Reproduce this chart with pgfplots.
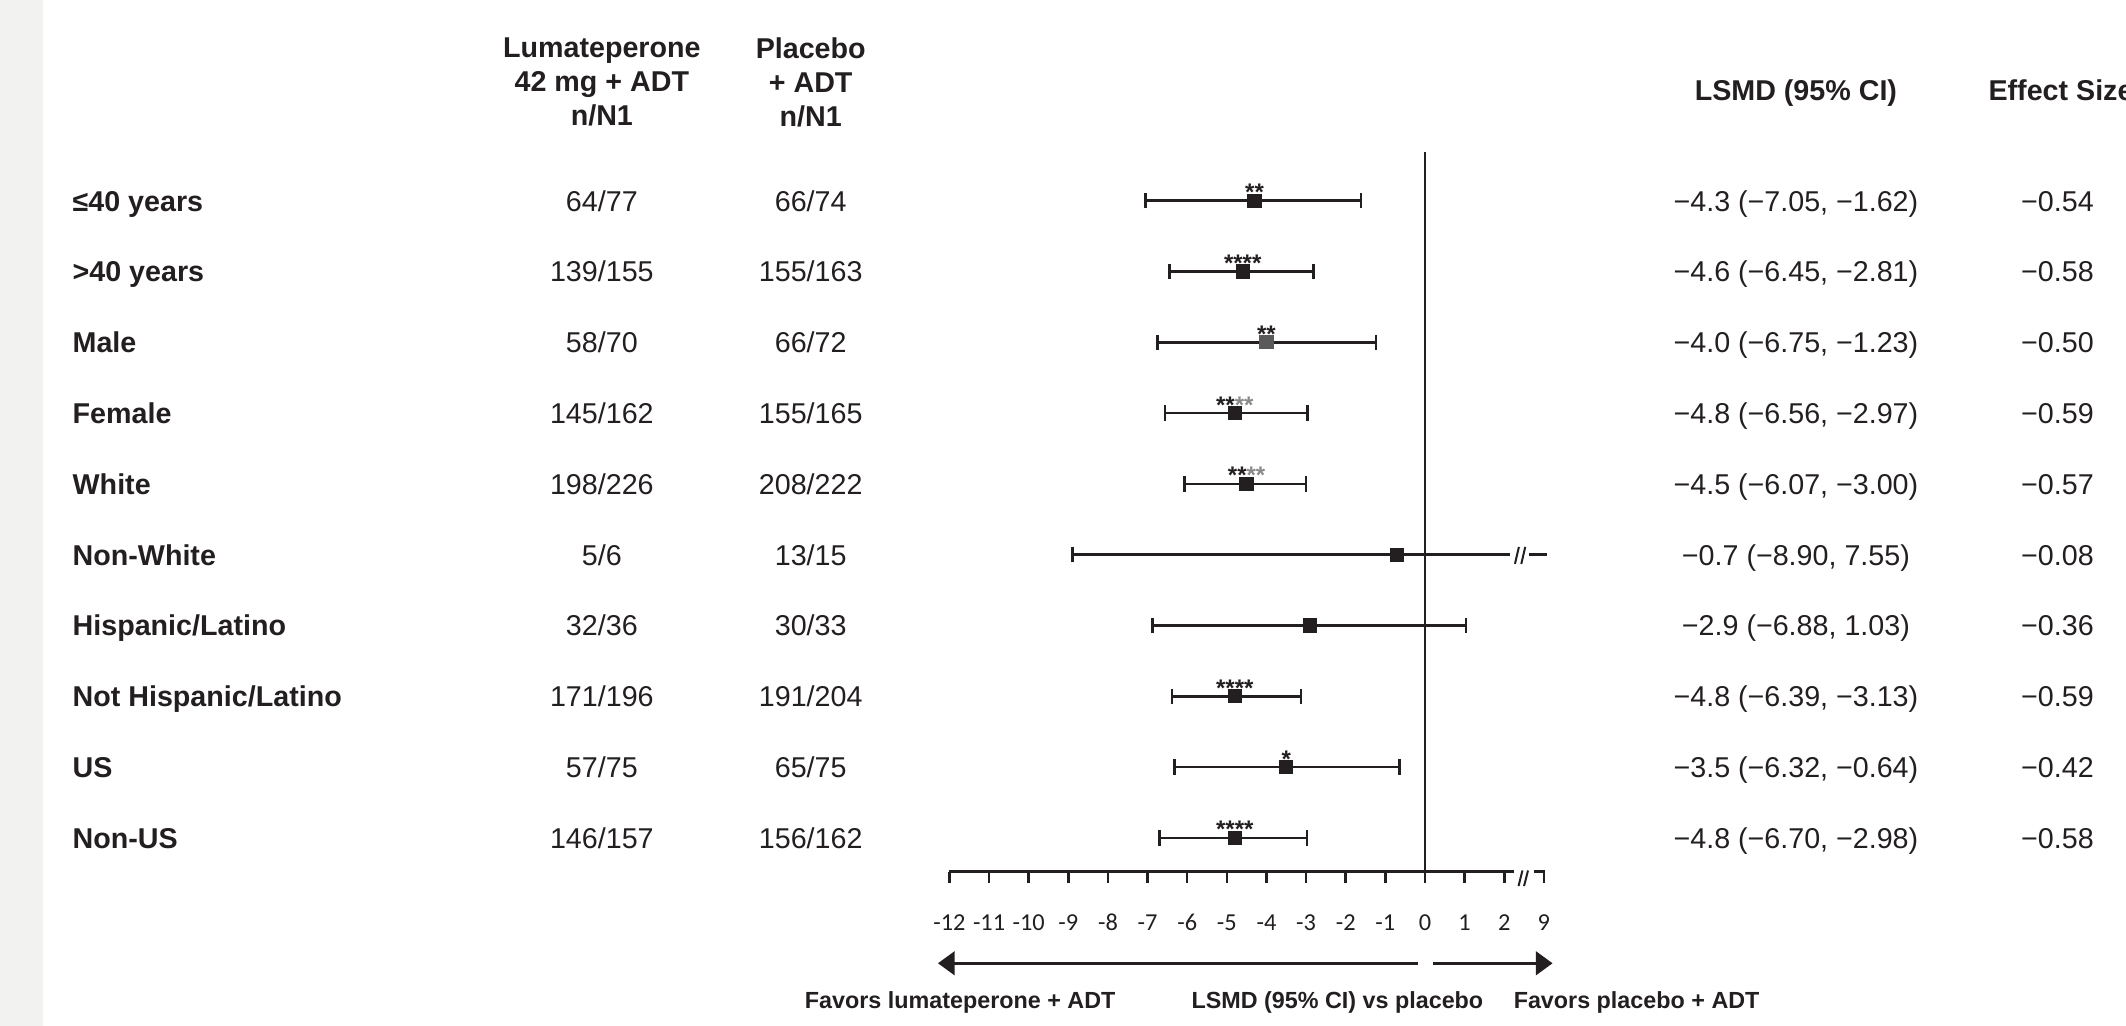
\documentclass[border=0pt]{standalone}
\usepackage{fontspec}
\setmainfont{Liberation Sans}
\newfontfamily\calfont{Carlito}
\usepackage{pgfplots}
\pgfplotsset{compat=1.18}
\usepackage{pgfplotstable}
\usetikzlibrary{arrows.meta}
\definecolor{ink}{HTML}{231F20}
\definecolor{strip}{HTML}{F2F2F0}
\definecolor{stargray}{HTML}{8A8A8A}
\definecolor{markgray}{HTML}{5A5A5A}

% forest rows (Non-White drawn separately because of the axis break)
\pgfplotstableread[col sep=comma]{
row,lsmd,lo,hi
1,-4.3,-7.05,-1.62
2,-4.6,-6.45,-2.81
3,-4.0,-6.75,-1.23
4,-4.8,-6.56,-2.97
5,-4.5,-6.07,-3.00
7,-2.9,-6.88,1.03
8,-4.8,-6.39,-3.13
9,-3.5,-6.32,-0.64
10,-4.8,-6.70,-2.98
}\forestdata

\newcommand\rowtxt[6]{%
  \node[lab] at (axis cs:-34.14,#1) {#2};
  \node[val] at (axis cs:-20.77,#1) {#3};
  \node[val] at (axis cs:-15.50,#1) {#4};
  \node[val] at (axis cs:9.36,#1) {#5};
  \node[val] at (axis cs:15.96,#1) {#6};
}

\begin{document}
\begin{tikzpicture}[
  lab/.style={anchor=base west, yshift=-3.1pt, inner sep=0pt, text=ink,
              font=\bfseries\fontsize{8.6}{10.2}\selectfont},
  val/.style={anchor=base, yshift=-3.1pt, inner sep=0pt, text=ink,
              font=\fontsize{8.6}{10.2}\selectfont},
  hdr/.style={anchor=center, inner sep=0pt, text=ink, align=center,
              font=\bfseries\fontsize{8.6}{10.2}\selectfont},
  stars/.style={anchor=base, inner sep=0pt, text=ink,
              font=\bfseries\fontsize{7.2}{8}\selectfont},
  tickl/.style={anchor=center, inner sep=0pt, text=ink,
              font=\calfont\fontsize{7.3}{8}\selectfont},
  foot/.style={anchor=base, yshift=-2.5pt, inner sep=0pt, text=ink,
              font=\bfseries\fontsize{7}{8}\selectfont},
]
\useasboundingbox (0,0) rectangle (637.8pt,307.8pt);
\clip (0,0) rectangle (637.8pt,307.8pt);
\begin{axis}[
  at={(0,0)}, anchor=south west,
  scale only axis, width=637.8pt, height=307.8pt,
  xmin=-35.957, xmax=17.689, ymin=-1.8347, ymax=12.657,
  y dir=reverse, hide axis, clip=false,
]
% left grey strip
\fill[strip] (axis cs:-36.5,-2.5) rectangle (axis cs:-34.87,13.5);

% zero reference line
\addplot[ink, line width=0.8pt] coordinates {(0,0.311) (0,10.477)};

% x axis with break
\addplot[ink, line width=0.75pt] coordinates {(-12,10.477) (2.24,10.477)};
\addplot[ink, line width=0.75pt] coordinates {(2.75,10.477) (3,10.477) (3,10.642)};
\pgfplotsinvokeforeach{-12,-11,...,2}{
  \draw[ink, line width=0.75pt] (axis cs:#1,10.477) -- (axis cs:#1,10.642);
  \node[tickl] at (axis cs:#1,11.198) {#1};
}
\node[tickl] at (axis cs:3,11.198) {9};
\draw[ink, line width=0.6pt] (axis cs:2.36,10.68) -- (axis cs:2.46,10.46);
\draw[ink, line width=0.6pt] (axis cs:2.50,10.68) -- (axis cs:2.60,10.46);

% Non-White line with break
\addplot[ink, line width=0.75pt] coordinates {(-0.7,6) (2.15,6)};
\addplot[ink, line width=0.75pt] coordinates {(2.62,6) (3.07,6)};
\draw[ink, line width=0.6pt] (axis cs:2.27,6.13) -- (axis cs:2.37,5.89);
\draw[ink, line width=0.6pt] (axis cs:2.43,6.13) -- (axis cs:2.53,5.89);

% estimates with 95% CI
\addplot[only marks, mark=square*, mark size=1.95pt, ink,
  error bars/.cd, x dir=both, x explicit, error mark=|,
  error bar style={ink, line width=0.75pt},
  error mark options={ink, mark size=2.3pt, line width=0.75pt}]
  table[x=lsmd, y=row,
        x error plus expr=\thisrow{hi}-\thisrow{lsmd},
        x error minus expr=\thisrow{lsmd}-\thisrow{lo}] {\forestdata};
\addplot[only marks, mark=square*, mark size=1.95pt, ink,
  error bars/.cd, x dir=minus, x explicit, error mark=|,
  error bar style={ink, line width=0.75pt},
  error mark options={ink, mark size=2.3pt, line width=0.75pt}]
  coordinates {(-0.7,6) -= (8.2,0)};
\addplot[only marks, mark=square*, mark size=1.95pt, markgray] coordinates {(-4.0,3)};

% significance stars
\node[stars] at (axis cs:-4.3,1) {**};
\node[stars] at (axis cs:-4.6,2) {****};
\node[stars] at (axis cs:-4.0,3) {**};
\node[stars] at (axis cs:-4.8,4) {**\textcolor{stargray}{**}};
\node[stars] at (axis cs:-4.5,5) {**\textcolor{stargray}{**}};
\node[stars] at (axis cs:-4.8,8) {****};
\node[stars] at (axis cs:-3.5,9) {*};
\node[stars] at (axis cs:-4.8,10) {****};

% direction arrows
\draw[ink, line width=1pt, -{Triangle[length=5pt,width=7pt]}]
  (axis cs:-0.18,11.771) -- (axis cs:-12.29,11.771);
\draw[ink, line width=1pt, -{Triangle[length=5pt,width=7pt]}]
  (axis cs:0.21,11.771) -- (axis cs:3.22,11.771);
\node[foot] at (axis cs:-11.73,12.29) {Favors lumateperone + ADT};
\node[foot] at (axis cs:-2.21,12.29) {LSMD (95\% CI) vs placebo};
\node[foot] at (axis cs:5.34,12.29) {Favors placebo + ADT};

% column headers
\node[hdr] at (axis cs:-20.77,-0.677) {Lumateperone\\42 mg + ADT\\n/N1};
\node[hdr] at (axis cs:-15.50,-0.677) {Placebo\\+ ADT\\n/N1};
\node[lab, anchor=base] at (axis cs:9.36,-0.564) {LSMD (95\% CI)};
\node[lab, anchor=base] at (axis cs:16.05,-0.564) {Effect Size};

% table rows
\rowtxt{1}{≤40 years}{64/77}{66/74}{−4.3 (−7.05, −1.62)}{−0.54}
\rowtxt{2}{>40 years}{139/155}{155/163}{−4.6 (−6.45, −2.81)}{−0.58}
\rowtxt{3}{Male}{58/70}{66/72}{−4.0 (−6.75, −1.23)}{−0.50}
\rowtxt{4}{Female}{145/162}{155/165}{−4.8 (−6.56, −2.97)}{−0.59}
\rowtxt{5}{White}{198/226}{208/222}{−4.5 (−6.07, −3.00)}{−0.57}
\rowtxt{6}{Non-White}{5/6}{13/15}{−0.7 (−8.90, 7.55)}{−0.08}
\rowtxt{7}{Hispanic/Latino}{32/36}{30/33}{−2.9 (−6.88, 1.03)}{−0.36}
\rowtxt{8}{Not Hispanic/Latino}{171/196}{191/204}{−4.8 (−6.39, −3.13)}{−0.59}
\rowtxt{9}{US}{57/75}{65/75}{−3.5 (−6.32, −0.64)}{−0.42}
\rowtxt{10}{Non-US}{146/157}{156/162}{−4.8 (−6.70, −2.98)}{−0.58}
\end{axis}
\end{tikzpicture}
\end{document}
